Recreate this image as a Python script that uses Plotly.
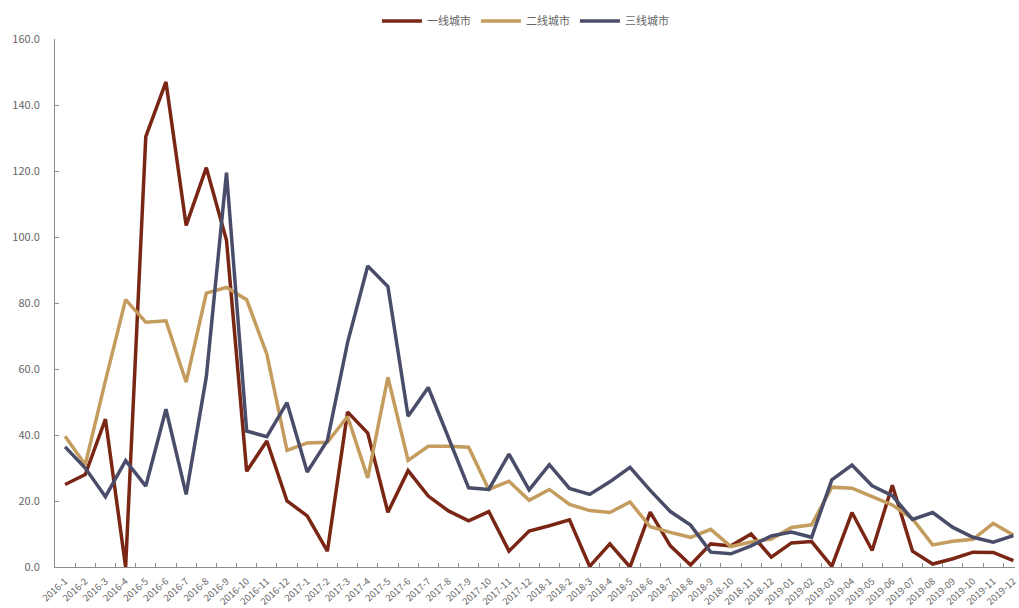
import plotly.graph_objects as go

# Monthly periods, 2016-01 through 2019-12
months = (
    [f"2016-{m}" for m in range(1, 13)]
    + [f"2017-{m}" for m in range(1, 13)]
    + [f"2018-{m}" for m in range(1, 13)]
    + [f"2019-{m:02d}" for m in range(1, 13)]
)

tier1 = [25.0, 28.0, 44.8, 0.0, 130.4, 147.0, 103.5, 121.0, 99.0, 29.0, 38.2, 20.0,
         15.5, 4.8, 47.0, 40.6, 16.6, 29.2, 21.5, 17.0, 14.0, 16.8, 4.8, 10.9,
         12.5, 14.3, 0.2, 7.0, 0.0, 16.6, 6.4, 0.6, 7.0, 6.4, 10.0, 3.0,
         7.3, 7.7, 0.2, 16.5, 5.0, 24.8, 4.8, 0.9, 2.5, 4.5, 4.4, 1.9]

tier2 = [39.6, 31.0, 56.5, 81.0, 74.2, 74.6, 56.0, 83.0, 84.7, 81.0, 64.5, 35.3,
         37.6, 37.8, 45.6, 27.0, 57.5, 32.3, 36.6, 36.6, 36.3, 23.5, 26.0, 20.2,
         23.5, 19.0, 17.1, 16.5, 19.7, 12.2, 10.5, 9.0, 11.4, 6.2, 7.6, 8.5,
         12.0, 12.8, 24.2, 23.9, 21.3, 18.8, 14.6, 6.7, 7.8, 8.4, 13.2, 9.7]

tier3 = [36.4, 30.0, 21.3, 32.2, 24.5, 47.8, 22.0, 57.6, 119.5, 41.2, 39.5, 49.8,
         28.8, 38.3, 68.0, 91.2, 85.0, 45.7, 54.4, 39.0, 24.0, 23.5, 34.2, 23.4,
         31.0, 23.8, 22.0, 25.8, 30.2, 23.2, 16.8, 12.7, 4.5, 4.0, 6.4, 9.4,
         10.6, 9.0, 26.4, 30.9, 24.6, 21.6, 14.4, 16.5, 12.0, 9.0, 7.5, 9.5]

series = [
    ("一线城市", tier1, "#7a2614"),
    ("二线城市", tier2, "#c49c5e"),
    ("三线城市", tier3, "#4a4d69"),
]

fig = go.Figure()
for name, values, color in series:
    fig.add_trace(go.Scatter(
        x=months, y=values, name=name, mode="lines",
        line=dict(color=color, width=3.5),
    ))

font_family = "Noto Sans CJK SC, DejaVu Sans, sans-serif"

fig.update_layout(
    width=1019, height=608,
    margin=dict(l=55, r=0, t=39, b=40),
    paper_bgcolor="white", plot_bgcolor="white",
    font=dict(family=font_family, size=11, color="#666666"),
    showlegend=True,
    legend=dict(
        orientation="h", x=0.49, xanchor="center", y=1.034, yanchor="middle",
        font=dict(size=11, color="#666666"), itemwidth=40,
        bgcolor="rgba(0,0,0,0)",
    ),
)

fig.update_xaxes(
    type="category", range=[-0.5, 47.08],
    showline=True, linecolor="#8c8c8c", linewidth=1,
    ticks="inside", ticklen=4, tickcolor="#8c8c8c", tickson="boundaries",
    tickangle=-42, ticklabelstandoff=4,
    tickfont=dict(size=9.5, color="#666666"),
    showgrid=False, zeroline=False,
)

fig.update_yaxes(
    range=[0, 160], dtick=20, tickformat=".1f",
    showline=True, linecolor="#8c8c8c", linewidth=1,
    ticks="inside", ticklen=4, tickcolor="#8c8c8c",
    ticklabelstandoff=12,
    tickfont=dict(size=11, color="#666666"),
    showgrid=False, zeroline=False,
)

fig.write_html("out.html")
